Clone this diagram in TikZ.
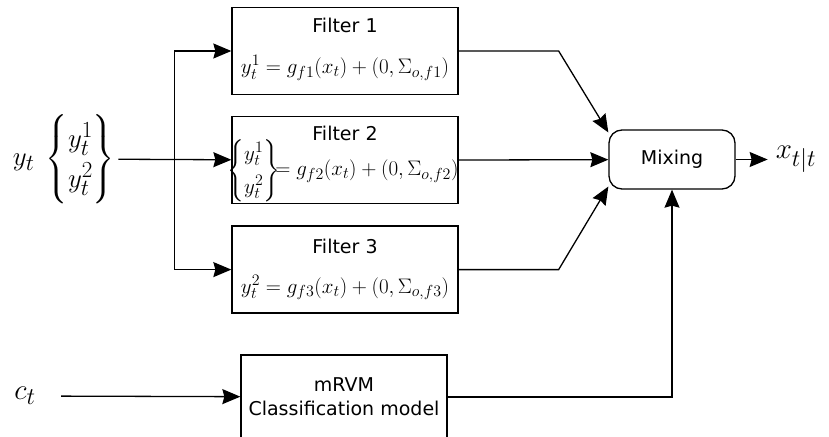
\RequirePackage{fix-cm}
\documentclass[tikz,border=0pt]{standalone}
\usepackage{amsmath}
\usepackage{fontspec}
\setsansfont{DejaVu Sans}
\usetikzlibrary{arrows.meta,positioning,calc}
\DeclareMathSizes{21}{21}{16}{12}
\DeclareMathSizes{27}{27}{23}{17}
\DeclareMathSizes{29}{29}{24}{18}

\begin{document}
\begin{tikzpicture}[
  x=1pt,y=-1pt,
  node distance=21pt,
  block/.style={draw,line width=1.3pt,minimum width=226pt,minimum height=87pt,inner sep=0pt},
  mixer/.style={draw,line width=1.3pt,rounded corners=13pt,minimum width=126pt,minimum height=59pt,font=\sffamily\fontsize{19}{23}\selectfont},
  title/.style={font=\sffamily\fontsize{19}{23}\selectfont,inner sep=0pt},
  eqn/.style={font=\fontsize{21}{27}\selectfont,inner sep=0pt},
  signal/.style={font=\fontsize{27}{40}\selectfont},
  flow/.style={-{Stealth[length=18pt,width=15pt,inset=2pt]},line width=1.3pt}
]
\useasboundingbox (0,0) rectangle (829,436);
\clip (0,0) rectangle (829,436);
% filters
\node[block] (f1) at (345,51) {};
\node[block,below=of f1] (f2) {};
\node[block,below=of f2] (f3) {};
\node[title] (t1) at ($(f1)+(0,-26)$) {Filter 1};
\node[title] (t2) at ($(f2)+(0,-27)$) {Filter 2};
\node[title] (t3) at ($(f3)+(0,-23)$) {Filter 3};
\node[eqn] (e1) at ($(f1)+(0,17)$) {$y_t^1 = g_{f1}(x_t) + (0,\Sigma_{o,f1})$};
\node[eqn,font=\fontsize{21}{33}\selectfont] (e2) at ($(f2)+(-2,10)$) {$\begin{Bmatrix} y_t^1\\ y_t^2\end{Bmatrix}\!\!\!= g_{f2}(x_t) + (0,\Sigma_{o,f2})$};
\node[eqn] (e3) at ($(f3)+(0,18)$) {$y_t^2 = g_{f3}(x_t) + (0,\Sigma_{o,f3})$};
% mixing and classifier
\node[mixer] (mix) at (672,159.5) {Mixing};
\node[signal,font=\fontsize{29}{40}\selectfont,right=32pt of mix,inner xsep=8pt] (xo) {$x_{t|t}$};
\node[block,minimum width=206pt,minimum height=84pt,align=center,font=\sffamily\fontsize{19}{24}\selectfont] (cls) at (344,397) {mRVM\\Classification model};
% inputs
\node[signal,inner sep=3pt] (yt) at (64,159) {$y_t\hspace{7pt}\begin{Bmatrix} y_t^1\\ y_t^2\end{Bmatrix}$};
\node[signal,font=\fontsize{29}{40}\selectfont] (ct) at (25,396) {$c_t$};
\coordinate (sp) at ($(yt.east)!.5!(f2.west)$);
\coordinate (k1) at ($(f1.east)+(100,0)$);
\coordinate (k3) at ($(f3.east)+(100,0)$);
\draw[flow] (yt) -- (f2);
\draw[flow] (sp) |- (f1);
\draw[flow] (sp) |- (f3);
\draw[flow] (f1) -- (k1) -- (mix.157);
\draw[flow] (f2) -- (mix);
\draw[flow] (f3) -- (k3) -- (mix.203);
\draw[flow] (mix) -- (xo);
\draw[flow,shorten <=22pt] (ct) -- (cls);
\draw[flow] (cls) -| (mix);
\end{tikzpicture}
\end{document}
